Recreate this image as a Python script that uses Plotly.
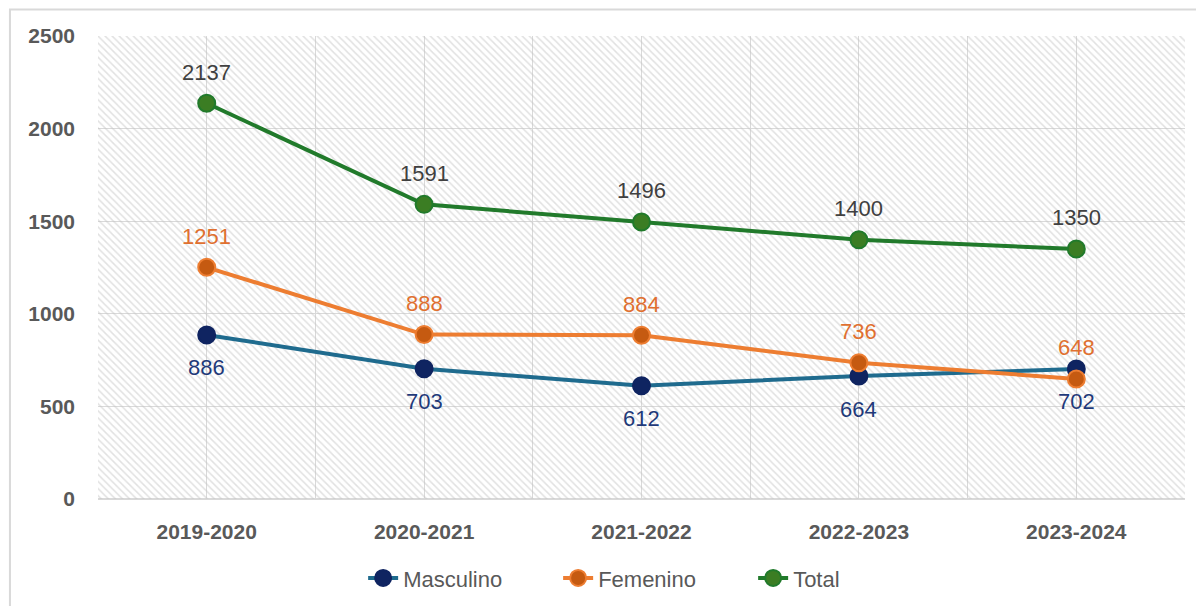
import plotly.graph_objects as go

# data
years = ["2019-2020", "2020-2021", "2021-2022", "2022-2023", "2023-2024"]
masculino = [886, 703, 612, 664, 702]
femenino = [1251, 888, 884, 736, 648]
total = [2137, 1591, 1496, 1400, 1350]

y_ticks = [0, 500, 1000, 1500, 2000, 2500]

FONT = "Liberation Sans, Arial, sans-serif"
GRID = "#d9d9d9"

series = [
    # name, values, line colour, marker fill, marker border, label colour, label shift
    ("Masculino", masculino, "#1f6b8e", "#0f2461", "#0f2461", "#1f3a7a", -33),
    ("Femenino", femenino, "#ed7d31", "#c55a11", "#ed7d31", "#e07030", 31),
    ("Total", total, "#217a2b", "#3b7d23", "#217a2b", "#404040", 31),
]

xpos = list(range(len(years)))
x_lo, x_hi = -0.5, len(years) - 0.5
y_top = y_ticks[-1]

fig = go.Figure()

# hatched plot background spanning all category bands
fig.add_trace(
    go.Scatter(
        x=[x_lo, x_hi, x_hi, x_lo, x_lo],
        y=[0, 0, y_top, y_top, 0],
        mode="lines",
        line=dict(width=0),
        fill="toself",
        fillcolor="rgba(0,0,0,0)",
        fillpattern=dict(
            shape="\\", fgcolor="#c4c4c4", bgcolor="rgba(0,0,0,0)",
            size=5, solidity=0.3,
        ),
        hoverinfo="skip",
        showlegend=False,
    )
)

for name, vals, lcol, mfill, mline, tcol, shift in series:
    fig.add_trace(
        go.Scatter(
            x=xpos,
            y=vals,
            name=name,
            mode="lines+markers",
            line=dict(color=lcol, width=4),
            marker=dict(size=17, color=mfill, line=dict(color=mline, width=2)),
        )
    )
    for x, v in zip(xpos, vals):
        fig.add_annotation(
            x=x, y=v, text=str(v), showarrow=False, yshift=shift,
            font=dict(family=FONT, size=22, color=tcol),
        )

# outer chart frame (partly cut off in the reference)
fig.add_shape(
    type="rect", xref="paper", yref="paper",
    x0=-0.081, x1=1.2, y0=-0.4, y1=1.057,
    line=dict(color=GRID, width=2), fillcolor="rgba(0,0,0,0)", layer="below",
)

fig.update_layout(
    width=1196,
    height=598,
    margin=dict(l=90, r=19, t=28, b=107, autoexpand=False),
    paper_bgcolor="white",
    plot_bgcolor="white",
    font=dict(family=FONT, color="#595959"),
    showlegend=True,
    legend=dict(
        orientation="h", x=0.513, xanchor="center", y=-0.171, yanchor="middle",
        font=dict(family=FONT, size=22, color="#595959"),
        entrywidth=150,
    ),
    xaxis=dict(
        range=[x_lo, x_hi],
        tickvals=xpos,
        ticktext=years,
        showgrid=True,
        gridcolor=GRID,
        gridwidth=1,
        minor=dict(tick0=x_lo, dtick=1, showgrid=True, gridcolor=GRID, gridwidth=1),
        zeroline=False,
        showline=False,
        ticks="",
        ticklabelstandoff=18,
        tickfont=dict(family=FONT, size=21, color="#595959", weight="bold"),
    ),
    yaxis=dict(
        range=[0, y_top],
        tickvals=y_ticks,
        showgrid=True,
        gridcolor=GRID,
        gridwidth=1,
        zeroline=True,
        zerolinecolor=GRID,
        zerolinewidth=2,
        ticks="",
        ticklabelstandoff=22,
        tickfont=dict(family=FONT, size=21, color="#595959", weight="bold"),
    ),
)

fig.write_html("out.html")
